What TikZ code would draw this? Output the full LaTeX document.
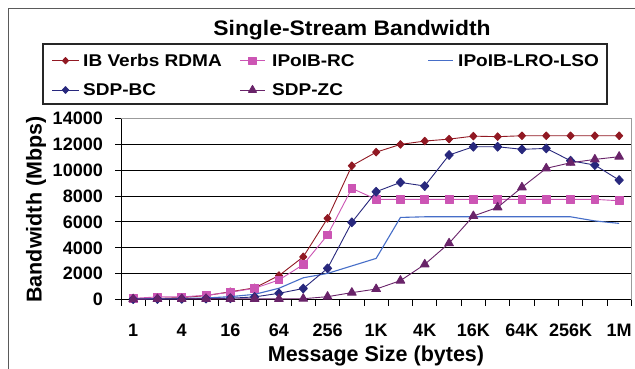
\documentclass[tikz,border=0pt]{standalone}
\usepackage{fontspec}
\setmainfont{Liberation Sans}
\usetikzlibrary{plotmarks}

\definecolor{ibred}{RGB}{145,25,35}
\definecolor{rcpink}{RGB}{204,85,180}
\definecolor{lroblue}{RGB}{70,110,200}
\definecolor{bcnavy}{RGB}{40,40,125}
\definecolor{zcpurple}{RGB}{105,35,105}
\definecolor{framegray}{RGB}{90,90,90}
\definecolor{plotgray}{RGB}{155,155,155}

\tikzset{
  titlefont/.style={font=\fontsize{21}{21}\selectfont\bfseries, xscale=1.09, inner sep=0pt},
  legtext/.style={font=\fontsize{17}{17}\selectfont\bfseries, xscale=1.12, anchor=base west, inner sep=0pt},
  ticktext/.style={font=\fontsize{18}{18}\selectfont\bfseries, inner sep=0pt},
  axistitle/.style={font=\fontsize{21.5}{21.5}\selectfont\bfseries, inner sep=0pt, anchor=base},
  grid line/.style={black, line width=0.9pt},
  series/.style={line width=0.9pt, line join=round},
  ibseries/.style={series, ibred, mark=diamond*, mark size=3.8pt, mark options={solid, fill=ibred, draw=ibred, xscale=1.25}},
  rcseries/.style={series, rcpink, mark=square*, mark size=3.9pt, mark options={solid, fill=rcpink, draw=rcpink}},
  lroseries/.style={series, lroblue, line width=1.1pt},
  bcseries/.style={series, bcnavy, mark=diamond*, mark size=4.4pt, mark options={solid, fill=bcnavy, draw=bcnavy, xscale=1.25}},
  zcseries/.style={series, zcpurple, mark=triangle*, mark size=5pt, mark options={solid, fill=zcpurple, draw=zcpurple}},
}

\begin{document}
\begin{tikzpicture}[x=1pt, y=-1pt]
\useasboundingbox (0,0) rectangle (635,368);
\fill[white] (0,0) rectangle (635,368);
\clip (0,0) rectangle (635,368);

% chart frame
\draw[framegray, line width=1.4pt] (8.3,380) -- (8.3,8.3) -- (650,8.3);

% title
\node[titlefont, anchor=base] (title) at (352,35) {Single-Stream Bandwidth};

% legend
\draw[black!85, line width=1.2pt] (43,44) rectangle (607,104);
\coordinate (l1a) at (52,60.7);  \coordinate (l1b) at (79,60.7);
\coordinate (l2a) at (240,60.7); \coordinate (l2b) at (265,60.7);
\coordinate (l3a) at (428,60.7); \coordinate (l3b) at (453,60.7);
\coordinate (l4a) at (52,90);    \coordinate (l4b) at (79,90);
\coordinate (l5a) at (240,90);   \coordinate (l5b) at (265,90);
\draw[series, ibred] (l1a) -- (l1b);
\draw[series, rcpink] (l2a) -- (l2b);
\draw[lroseries] (l3a) -- (l3b);
\draw[series, bcnavy] (l4a) -- (l4b);
\draw[series, zcpurple] (l5a) -- (l5b);
\path[ibseries] plot[mark size=3.2pt] coordinates {(65.5,60.7)};
\path[rcseries] plot[mark size=3.6pt] coordinates {(252.5,60.7)};
\path[bcseries] plot[mark size=3.4pt] coordinates {(65.5,90)};
\path[zcseries] plot[mark size=4.6pt] coordinates {(252.5,90)};
\node[legtext] (t1) at (83,66.7)  {IB Verbs RDMA};
\node[legtext] (t2) at (272,66.7) {IPoIB-RC};
\node[legtext] (t3) at (458,66.7) {IPoIB-LRO-LSO};
\node[legtext] (t4) at (83,95.7)  {SDP-BC};
\node[legtext] (t5) at (272,95.7) {SDP-ZC};

% plot area: gridlines and border
\foreach \v in {1,...,6}
  \draw[grid line] (121,299.5-12.93*2*\v) -- (631,299.5-12.93*2*\v);
\draw[plotgray, line width=1pt] (121,118.5) -- (631,118.5) -- (631,299.5);

% value axis
\draw[black, line width=1pt] (121,118.5) -- (121,299.5);
\foreach \v [count=\k from 0] in {0,2000,4000,6000,8000,10000,12000,14000} {
  \draw[black, line width=1pt] (115,299.5-25.86*\k) -- (121,299.5-25.86*\k);
  \node[ticktext, anchor=base east] (y\k) at (103,305.8-25.86*\k) {\v};
}

% category axis
\draw[black, line width=1pt] (121,299.5) -- (631,299.5);
\foreach \k in {0,...,21}
  \draw[black, line width=1pt] (121+24.3*\k,299.5) -- (121+24.3*\k,305.5);
\foreach \s [count=\j from 0] in {1,4,16,64,256,1K,4K,16K,64K,256K,1M}
  \node[ticktext, anchor=base] (x\j) at (133.15+48.6*\j,336) {\s};

% axis titles
\node[axistitle] (xtitle) at (376,361.5) {Message Size (bytes)};
\node[axistitle, rotate=90] (ytitle) at (41.7,209.5) {Bandwidth (Mbps)};

% data series
\begin{scope}[shift={(121pt,-299.5pt)}, x=24.3pt, y=0.01293pt]
\draw[ibseries] plot coordinates {(0.5,40) (1.5,80) (2.5,150) (3.5,300) (4.5,600) (5.5,900)
  (6.5,1850) (7.5,3300) (8.5,6280) (9.5,10350) (10.5,11400) (11.5,12000) (12.5,12260)
  (13.5,12410) (14.5,12640) (15.5,12600) (16.5,12670) (17.5,12670) (18.5,12670)
  (19.5,12670) (20.5,12670)};
\draw[rcseries] plot coordinates {(0.5,90) (1.5,200) (2.5,200) (3.5,330) (4.5,560) (5.5,870)
  (6.5,1510) (7.5,2700) (8.5,4990) (9.5,8600) (10.5,7750) (11.5,7750) (12.5,7750)
  (13.5,7750) (14.5,7750) (15.5,7750) (16.5,7750) (17.5,7750) (18.5,7750)
  (19.5,7750) (20.5,7640)};
\draw[lroseries] plot coordinates {(0.5,50) (1.5,60) (2.5,80) (3.5,120) (4.5,220) (5.5,400)
  (6.5,870) (7.5,1680) (8.5,2020) (9.5,2600) (10.5,3180) (11.5,6350) (12.5,6400)
  (13.5,6400) (14.5,6400) (15.5,6400) (16.5,6400) (17.5,6400) (18.5,6400)
  (19.5,6080) (20.5,5890)};
\draw[bcseries] plot coordinates {(0.5,30) (1.5,40) (2.5,50) (3.5,70) (4.5,100) (5.5,200)
  (6.5,480) (7.5,850) (8.5,2410) (9.5,5970) (10.5,8340) (11.5,9060) (12.5,8780)
  (13.5,11180) (14.5,11820) (15.5,11820) (16.5,11620) (17.5,11690) (18.5,10740)
  (19.5,10400) (20.5,9240)};
\draw[zcseries] plot coordinates {(0.5,30) (1.5,40) (2.5,40) (3.5,50) (4.5,40) (5.5,50)
  (6.5,50) (7.5,60) (8.5,220) (9.5,530) (10.5,810) (11.5,1460) (12.5,2720)
  (13.5,4350) (14.5,6460) (15.5,7130) (16.5,8680) (17.5,10150) (18.5,10580)
  (19.5,10840) (20.5,11050)};
\end{scope}
\end{tikzpicture}
\end{document}
